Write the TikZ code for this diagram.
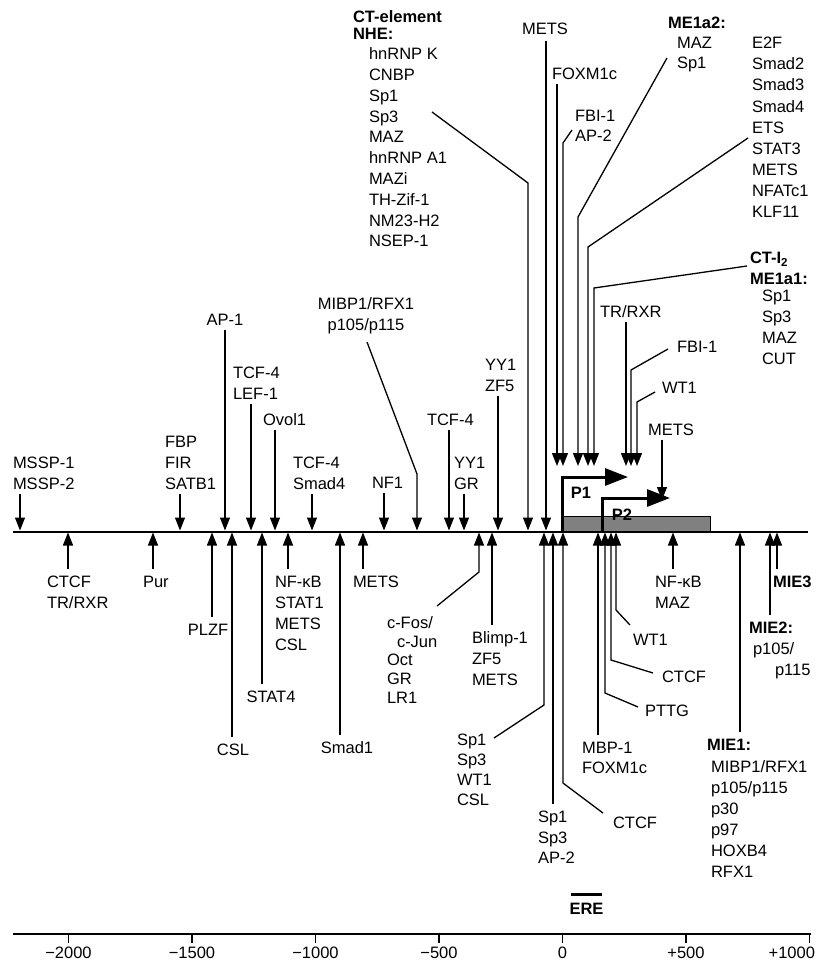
\documentclass[tikz,border=0pt]{standalone}
\usepackage{fontspec}
\setmainfont{Liberation Sans}
\usetikzlibrary{arrows.meta}
\newcommand\labfnt{\fontsize{16.5}{21}\selectfont}
\newcommand\hs{\rule{0pt}{14.7pt}}
\definecolor{boxgray}{RGB}{128,128,128}
\begin{document}
\begin{tikzpicture}[x=1pt,y=-1pt,
  lb/.style={inner sep=0pt, outer sep=0pt, font=\labfnt, align=left, anchor=north west},
  lbc/.style={lb, align=center, anchor=north},
  bold/.style={font=\labfnt\bfseries},
  ar/.style={line width=1.3pt, -{Triangle[length=13pt,width=10pt]}},
  arl/.style={ar, shorten <=4pt},
  prom/.style={line width=3pt, -{Triangle[length=23pt,width=17pt]}},
]
\fill[white] (0,0) rectangle (816,967);
\useasboundingbox (0,0) rectangle (816,967);

% ---------------- main axis, transcript, promoters
\coordinate (axL) at (13,531.5);
\coordinate (axR) at (808,531.5);
\draw[line width=2pt] (axL) -- (axR);
\node[draw, line width=0.8pt, fill=boxgray, minimum width=148pt, minimum height=15pt,
      inner sep=0pt, anchor=south west] (tx) at (562,532) {};
\coordinate (p1a) at (562,531.5); \coordinate (p1b) at (562,477); \coordinate (p1c) at (628,477);
\draw[prom] (p1a) -- (p1b) -- (p1c);
\coordinate (p2a) at (602,531.5); \coordinate (p2b) at (602,498); \coordinate (p2c) at (670,498);
\draw[prom] (p2a) -- (p2b) -- (p2c);
\node[lbc,bold] (p1) at (581,484) {\hs P1};
\node[lbc,bold] (p2) at (622,506) {\hs P2};

% ---------------- upper side, arrows to the axis
\node[lb] (mssp) at (13,454) {\hs MSSP-1\\MSSP-2};
\coordinate (tA) at (20,530.5);
\draw[arl] (tA |- mssp.south) -- (tA);

\node[lb] (fbp) at (165,433) {\hs FBP\\FIR\\SATB1};
\coordinate (tB) at (180,530.5);
\draw[arl] (tB |- fbp.south) -- (tB);

\node[lbc] (ap1) at (225,311) {\hs AP-1};
\coordinate (tC) at (225,530.5);
\draw[arl] (tC |- ap1.south) -- (tC);

\node[lb] (tcfa) at (233,364) {\hs TCF-4\\LEF-1};
\coordinate (tD) at (251,530.5);
\draw[arl] (tD |- tcfa.south) -- (tD);

\node[lb] (ovol) at (263,411) {\hs Ovol1};
\coordinate (tE) at (275,530.5);
\draw[arl] (tE |- ovol.south) -- (tE);

\node[lb] (tcfb) at (293,454) {\hs TCF-4\\Smad4};
\coordinate (tF) at (312,530.5);
\draw[arl] (tF |- tcfb.south) -- (tF);

\node[lb] (nf1) at (372,474) {\hs NF1};
\coordinate (tG) at (384,530.5);
\draw[arl] (tG |- nf1.south) -- (tG);

\node[lbc] (mibp) at (366,295) {\hs MIBP1/RFX1\\p105/p115};
\coordinate (mibpS) at (367,342); \coordinate (mibpB) at (417,474);
\coordinate (tH) at (417,530.5);
\draw[ar] (mibpS) -- (mibpB) -- (tH);

\node[lb] (tcfc) at (427,411) {\hs TCF-4};
\coordinate (tI) at (449,530.5);
\draw[arl] (tI |- tcfc.south) -- (tI);

\node[lb] (yygr) at (454,454) {\hs YY1\\GR};
\coordinate (tJ) at (464,530.5);
\draw[arl] (tJ |- yygr.south) -- (tJ);

\node[lb] (yyzf) at (485,356) {\hs YY1\\ZF5};
\coordinate (tK) at (498,530.5);
\draw[arl] (tK |- yyzf.south) -- (tK);

\node[lb,font=\fontsize{16.5}{17}\selectfont\bfseries] (cth) at (353,8) {\hs CT-element\\NHE:};
\node[lb,font=\fontsize{16.5}{20.8}\selectfont] (ctl) at (369,45)
  {\hs hnRNP K\\CNBP\\Sp1\\Sp3\\MAZ\\hnRNP A1\\MAZi\\TH-Zif-1\\NM23-H2\\NSEP-1};
\coordinate (ctS) at (432,112); \coordinate (ctB) at (528,183);
\coordinate (tL) at (528,530.5);
\draw[ar] (ctS) -- (ctB) -- (tL);

\node[lbc] (metsA) at (545,20) {\hs METS};
\coordinate (tM) at (546,530.5);
\draw[ar, shorten <=6pt] (tM |- metsA.south) -- (tM);

% ---------------- upper side, arrows above the promoters
\node[lb] (fox) at (552,65) {\hs FOXM1c};
\coordinate (tN) at (557,466);
\draw[arl] (tN |- fox.south) -- (tN);

\node[lb,font=\fontsize{16.5}{20}\selectfont] (fbiA) at (575,107) {\hs FBI-1\\AP-2};
\coordinate (fbiS) at (572,130); \coordinate (fbiB) at (563,143);
\coordinate (tO) at (563,466);
\draw[ar] (fbiS) -- (fbiB) -- (tO);

\node[lb,bold] (me2h) at (668,14) {\hs ME1a2:};
\node[lb,font=\fontsize{16.5}{20}\selectfont] (me2l) at (677,34) {\hs MAZ\\Sp1};
\coordinate (me2S) at (667,58); \coordinate (me2B) at (578,217);
\coordinate (tP) at (578,466);
\draw[ar] (me2S) -- (me2B) -- (tP);

\node[lb,font=\fontsize{16.5}{21.1}\selectfont] (e2f) at (752,34)
  {\hs E2F\\Smad2\\Smad3\\Smad4\\ETS\\STAT3\\METS\\NFATc1\\KLF11};
\coordinate (e2fS) at (748,138); \coordinate (e2fB) at (588,247);
\coordinate (tQ) at (588,466);
\draw[ar] (e2fS) -- (e2fB) -- (tQ);

\node[lb,bold] (cti) at (750,249) {\hs CT-I\textsubscript{2}\\ME1a1:};
\node[lb] (me1l) at (762,287) {\hs Sp1\\Sp3\\MAZ\\CUT};
\coordinate (ctiS) at (747,266); \coordinate (ctiB) at (594,288);
\coordinate (tR) at (594,466);
\draw[ar] (ctiS) -- (ctiB) -- (tR);

\node[lb] (trr) at (600,303) {\hs TR/RXR};
\coordinate (tS) at (626,466);
\draw[arl] (tS |- trr.south) -- (tS);

\node[lb] (fbiC) at (677,338) {\hs FBI-1};
\coordinate (fbiCS) at (668,349); \coordinate (fbiCB) at (631,370);
\coordinate (tT) at (631,466);
\draw[ar] (fbiCS) -- (fbiCB) -- (tT);

\node[lb] (wtA) at (662,379) {\hs WT1};
\coordinate (wtAS) at (655,392); \coordinate (wtAB) at (637,402);
\coordinate (tU) at (637,466);
\draw[ar] (wtAS) -- (wtAB) -- (tU);

\node[lb] (metsB) at (648,421) {\hs METS};
\coordinate (tV) at (662,500);
\draw[arl] (tV |- metsB.south) -- (tV);

% ---------------- lower side, arrows up to the axis
\node[lb] (ctcfA) at (47,573) {\hs CTCF\\TR/RXR};
\coordinate (bA) at (68,532.5);
\draw[arl] (bA |- ctcfA.north) -- (bA);

\node[lb] (pur) at (143,573) {\hs Pur};
\coordinate (bB) at (153,532.5);
\draw[arl] (bB |- pur.north) -- (bB);

\node[lbc] (plzf) at (208,621) {\hs PLZF};
\coordinate (bC) at (212,532.5);
\draw[arl] (bC |- plzf.north) -- (bC);

\node[lbc] (cslA) at (233,741) {\hs CSL};
\coordinate (bD) at (232,532.5);
\draw[arl] (bD |- cslA.north) -- (bD);

\node[lbc] (stat4) at (271,688) {\hs STAT4};
\coordinate (bE) at (262,532.5);
\draw[arl] (bE |- stat4.north) -- (bE);

\node[lb] (nfkbA) at (275,573) {\hs NF-κB\\STAT1\\METS\\CSL};
\coordinate (bF) at (288,532.5);
\draw[arl] (bF |- nfkbA.north) -- (bF);

\node[lbc] (smad1) at (347,739) {\hs Smad1};
\coordinate (bG) at (340,532.5);
\draw[arl] (bG |- smad1.north) -- (bG);

\node[lb] (metsC) at (353,573) {\hs METS};
\coordinate (bH) at (363,532.5);
\draw[arl] (bH |- metsC.north) -- (bH);

\node[lb,font=\fontsize{16.5}{18.6}\selectfont] (cfos) at (387,614)
  {\hs c-Fos/\\\hspace*{10pt}c-Jun\\Oct\\GR\\LR1};
\coordinate (cfosS) at (437,606); \coordinate (cfosB) at (479,572);
\coordinate (bI) at (479,532.5);
\draw[ar] (cfosS) -- (cfosB) -- (bI);

\node[lb] (blimp) at (472,629) {\hs Blimp-1\\ZF5\\METS};
\coordinate (bJ) at (492,532.5);
\draw[arl] (bJ |- blimp.north) -- (bJ);

\node[lb,font=\fontsize{16.5}{20}\selectfont] (sp1A) at (457,731) {\hs Sp1\\Sp3\\WT1\\CSL};
\coordinate (sp1AS) at (494,738); \coordinate (sp1AB) at (544,705);
\coordinate (bK) at (544,532.5);
\draw[ar] (sp1AS) -- (sp1AB) -- (bK);

\node[lb,font=\fontsize{16.5}{20.5}\selectfont] (sp1B) at (538,808) {\hs Sp1\\Sp3\\AP-2};
\coordinate (bL) at (553,532.5);
\draw[arl] (bL |- sp1B.north) -- (bL);

\node[lb] (ctcfB) at (613,814) {\hs CTCF};
\coordinate (ctcfBS) at (603,813); \coordinate (ctcfBB) at (563,783);
\coordinate (bM) at (563,532.5);
\draw[ar] (ctcfBS) -- (ctcfBB) -- (bM);

\node[lb,font=\fontsize{16.5}{20}\selectfont] (mbp) at (582,739) {\hs MBP-1\\FOXM1c};
\coordinate (bN) at (598,532.5);
\draw[arl] (bN |- mbp.north) -- (bN);

\node[lb] (pttg) at (645,702) {\hs PTTG};
\coordinate (pttgS) at (638,707); \coordinate (pttgB) at (605,693);
\coordinate (bO) at (605,532.5);
\draw[ar] (pttgS) -- (pttgB) -- (bO);

\node[lb] (ctcfC) at (662,668) {\hs CTCF};
\coordinate (ctcfCS) at (653,673); \coordinate (ctcfCB) at (611,660);
\coordinate (bP) at (611,532.5);
\draw[ar] (ctcfCS) -- (ctcfCB) -- (bP);

\node[lb] (wtB) at (633,631) {\hs WT1};
\coordinate (wtBS) at (630,625); \coordinate (wtBB) at (616,610);
\coordinate (bQ) at (616,532.5);
\draw[ar] (wtBS) -- (wtBB) -- (bQ);

\node[lb] (nfkbB) at (655,573) {\hs NF-κB\\MAZ};
\coordinate (bR) at (673,532.5);
\draw[arl] (bR |- nfkbB.north) -- (bR);

\node[lb,bold] (mie1h) at (707,736) {\hs MIE1:};
\node[lb] (mie1l) at (711,758) {\hs MIBP1/RFX1\\p105/p115\\p30\\p97\\HOXB4\\RFX1};
\coordinate (bS) at (740,532.5);
\draw[arl] (bS |- mie1h.north) -- (bS);

\node[lb,bold] (mie2h) at (749,619) {\hs MIE2:};
\node[lb] (mie2l) at (753,640) {\hs p105/\\\hspace*{22pt}p115};
\coordinate (bT) at (770,532.5);
\draw[arl] (bT |- mie2h.north) -- (bT);

\node[lb,bold] (mie3) at (773,573) {\hs MIE3};
\coordinate (bU) at (777,532.5);
\draw[arl] (bU |- mie3.north) -- (bU);

% ---------------- ERE and scale
\coordinate (ereL) at (571,894); \coordinate (ereR) at (602,894);
\draw[line width=3pt] (ereL) -- (ereR);
\node[lbc,bold] (ere) at (586.5,900) {\hs ERE};

\coordinate (scL) at (13,934); \coordinate (scR) at (811,934);
\draw[line width=1.5pt] (scL) -- (scR);
\foreach \xx/\lbl [count=\i] in {68.5/−2000,192/−1500,315.5/−1000,439/−500,562.5/0,686/+500}{
  \coordinate (tk\i) at (\xx,934);
  \draw[line width=1.2pt] (tk\i) -- ++(0,9);
  \node[lbc] (tl\i) at (\xx,944) {\hs\lbl};
}
\coordinate (tk7) at (809.5,934);
\draw[line width=1.2pt] (tk7) -- ++(0,9);
\node[lb,anchor=north east] (tl7) at (815,944) {\hs +1000};
\end{tikzpicture}
\end{document}
